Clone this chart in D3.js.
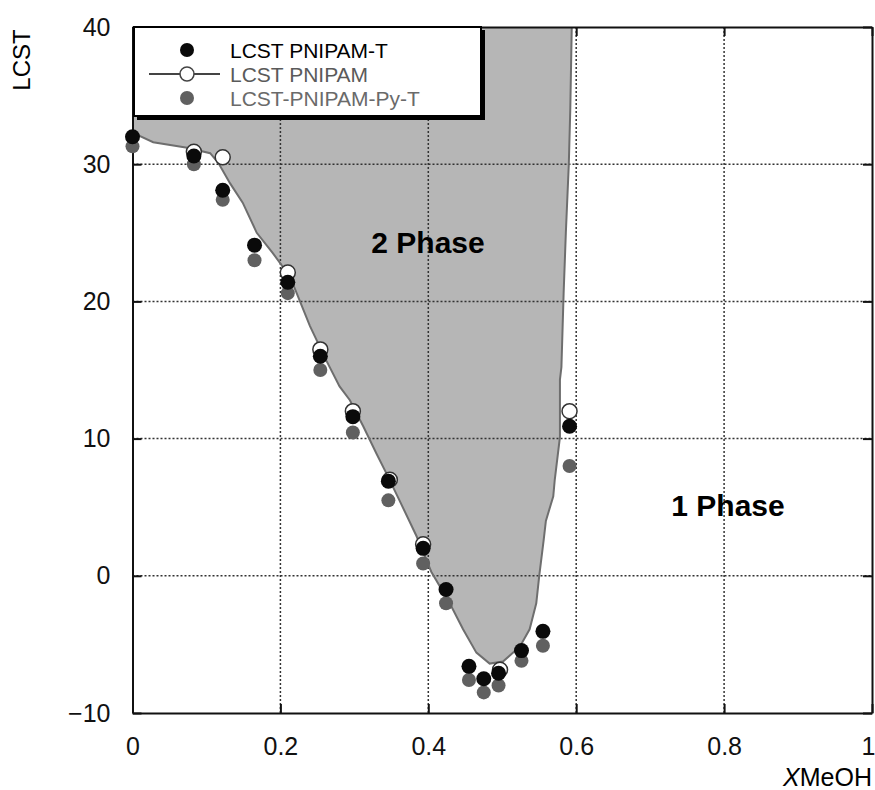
<!DOCTYPE html>
<html>
<head>
<meta charset="utf-8">
<script src="https://cdn.jsdelivr.net/npm/d3@7"></script>
<style>
  body { margin: 0; background: #fff; }
  svg { font-family: "Liberation Sans", Arial, sans-serif; }
  .grid line { stroke: #333; stroke-width: 1.5; stroke-dasharray: 2,2; }
  .axis path, .axis line { stroke: #111; stroke-width: 2; }
  .axis text { font-size: 25px; fill: #111; }
</style>
</head>
<body>
<div id="chart"></div>
<script>

// Tick values
var xTicks = [0, 0.2, 0.4, 0.6, 0.8, 1],
    yTicks = [-10, 0, 10, 20, 30, 40];

// LCST PNIPAM-T (filled black)
var blackX = [0, 0.083, 0.122, 0.165, 0.21, 0.254, 0.298, 0.346, 0.393, 0.424, 0.455, 0.475, 0.495, 0.526, 0.555, 0.591];
var blackY = [32.0, 30.6, 28.1, 24.1, 21.4, 16.0, 11.6, 6.9, 2.0, -1.0, -6.6, -7.5, -7.1, -5.45, -4.05, 10.9];

// LCST-PNIPAM-Py-T (filled grey)
var grayX = [0, 0.083, 0.122, 0.165, 0.21, 0.254, 0.298, 0.346, 0.393, 0.424, 0.455, 0.475, 0.495, 0.526, 0.555, 0.591];
var grayY = [31.3, 30.0, 27.4, 23.0, 20.6, 15.0, 10.45, 5.5, 0.9, -2.0, -7.6, -8.5, -8.0, -6.2, -5.1, 8.0];

// LCST PNIPAM (open circles)
var openX = [0.083, 0.122, 0.21, 0.254, 0.298, 0.348, 0.393, 0.497, 0.591];
var openY = [30.9, 30.5, 22.1, 16.5, 12.0, 7.0, 2.3, -6.85, 12.0];

// Two-phase boundary (LCST PNIPAM curve)
var edgeX = [0, 0.028, 0.074, 0.105, 0.116, 0.132, 0.149, 0.168, 0.19, 0.213, 0.24, 0.262, 0.28, 0.294, 0.312, 0.33, 0.343, 0.361, 0.384, 0.404, 0.429, 0.447, 0.465, 0.483, 0.501, 0.524, 0.537, 0.546, 0.55, 0.556, 0.559, 0.569, 0.571, 0.578, 0.578, 0.58, 0.583, 0.586, 0.59, 0.592, 0.594];
var edgeY = [32.3, 31.6, 31.2, 30.8, 30.1, 28.6, 27.2, 25.0, 23.5, 21.8, 18.2, 15.7, 13.8, 12.8, 10.9, 8.9, 7.5, 5.5, 2.9, 0.3, -2.0, -3.9, -5.6, -6.4, -6.25, -5.15, -3.9, -2.0, 0, 2.6, 4.0, 5.8, 7.0, 10.1, 14.3, 15.2, 20.6, 25.0, 30.0, 34.0, 40.0];

var legendNames = ["LCST PNIPAM-T", "LCST PNIPAM", "LCST-PNIPAM-Py-T"];

var svg = d3.select("#chart").append("svg")
    .attr("width", 875).attr("height", 790);

var x = d3.scaleLinear().domain([0, 1]).range([132.5, 872]);
var y = d3.scaleLinear().domain([-10, 40]).range([713, 27]);

// Two-phase region
var edge = edgeX.map(function(d, i) { return [d, edgeY[i]]; });
var region = [[0, 40]].concat(edge);
var line = d3.line()
    .x(function(d) { return x(d[0]); })
    .y(function(d) { return y(d[1]); });

svg.append("path")
    .attr("d", line(region) + "Z")
    .attr("fill", "#b6b6b6");

// Dotted grid
var grid = svg.append("g").attr("class", "grid");
grid.selectAll(".vx").data(xTicks.slice(1, -1)).enter().append("line")
    .attr("x1", x).attr("x2", x).attr("y1", y(-10)).attr("y2", y(40));
grid.selectAll(".hy").data(yTicks.slice(1, -1)).enter().append("line")
    .attr("x1", x(0)).attr("x2", x(1)).attr("y1", y).attr("y2", y);

svg.append("path")
    .attr("d", line(edge))
    .attr("fill", "none")
    .attr("stroke", "#6e6e6e")
    .attr("stroke-width", 2);

// Axes with inward ticks
svg.append("g").attr("class", "axis")
    .attr("transform", "translate(0," + y(-10) + ")")
    .call(d3.axisBottom(x).tickValues(xTicks).tickSizeInner(-9).tickSizeOuter(0)
        .tickPadding(24).tickFormat(d3.format("")))
  .selectAll("text")
    .filter(function(d) { return d === 1; })
    .attr("text-anchor", "end")
    .attr("dx", 3);
svg.append("g").attr("class", "axis")
    .attr("transform", "translate(0," + y(40) + ")")
    .call(d3.axisTop(x).tickValues(xTicks).tickSizeInner(-9).tickSizeOuter(0).tickFormat(""));
svg.append("g").attr("class", "axis")
    .attr("transform", "translate(" + x(0) + ",0)")
    .call(d3.axisLeft(y).tickValues(yTicks).tickSizeInner(-9).tickSizeOuter(0)
        .tickPadding(22));
svg.append("g").attr("class", "axis")
    .attr("transform", "translate(" + x(1) + ",0)")
    .call(d3.axisRight(y).tickValues(yTicks).tickSizeInner(-9).tickSizeOuter(0).tickFormat(""));

// Data points
var gray = grayX.map(function(d, i) { return [d, grayY[i]]; }),
    open = openX.map(function(d, i) { return [d, openY[i]]; }),
    black = blackX.map(function(d, i) { return [d, blackY[i]]; });

svg.selectAll(".gp").data(gray).enter().append("circle")
    .attr("cx", function(d) { return x(d[0]); })
    .attr("cy", function(d) { return y(d[1]); })
    .attr("r", 7).attr("fill", "#606060");
svg.selectAll(".op").data(open).enter().append("circle")
    .attr("cx", function(d) { return x(d[0]); })
    .attr("cy", function(d) { return y(d[1]); })
    .attr("r", 7.5).attr("fill", "#fff").attr("stroke", "#333").attr("stroke-width", 1.5);
svg.selectAll(".bp").data(black).enter().append("circle")
    .attr("cx", function(d) { return x(d[0]); })
    .attr("cy", function(d) { return y(d[1]); })
    .attr("r", 7.5).attr("fill", "#0a0a0a");

// Region labels
svg.append("text").attr("x", 428).attr("y", 253).attr("text-anchor", "middle")
    .attr("font-size", 30).attr("font-weight", "bold").text("2 Phase");
svg.append("text").attr("x", 728).attr("y", 516).attr("text-anchor", "middle")
    .attr("font-size", 30).attr("font-weight", "bold").text("1 Phase");

// Axis titles
svg.append("text").attr("transform", "translate(30,60) rotate(-90)")
    .attr("text-anchor", "middle").attr("font-size", 24).text("LCST");
var xt = svg.append("text").attr("x", 872).attr("y", 786).attr("text-anchor", "end")
    .attr("font-size", 25);
xt.append("tspan").attr("font-style", "italic").text("X");
xt.append("tspan").text("MeOH");

// Legend
var lg = svg.append("g");
lg.append("rect").attr("x", 137).attr("y", 30).attr("width", 348).attr("height", 90).attr("fill", "#000");
lg.append("rect").attr("x", 134).attr("y", 27).attr("width", 347).attr("height", 89)
    .attr("fill", "#fff").attr("stroke", "#000").attr("stroke-width", 2);
var rowY = [50, 74, 98],
    textCol = ["#000", "#5a5a5a", "#6a6a6a"];
lg.append("line").attr("x1", 149).attr("x2", 220).attr("y1", rowY[1]).attr("y2", rowY[1])
    .attr("stroke", "#444").attr("stroke-width", 2);
lg.append("circle").attr("cx", 187).attr("cy", rowY[0]).attr("r", 7).attr("fill", "#0a0a0a");
lg.append("circle").attr("cx", 187).attr("cy", rowY[1]).attr("r", 7).attr("fill", "#fff")
    .attr("stroke", "#444").attr("stroke-width", 1.5);
lg.append("circle").attr("cx", 187).attr("cy", rowY[2]).attr("r", 7).attr("fill", "#606060");
lg.selectAll(".lt").data(legendNames).enter().append("text")
    .attr("x", 230).attr("y", function(d, i) { return rowY[i] + 8; })
    .attr("font-size", 21).attr("fill", function(d, i) { return textCol[i]; })
    .text(function(d) { return d; });

</script>
</body>
</html>
